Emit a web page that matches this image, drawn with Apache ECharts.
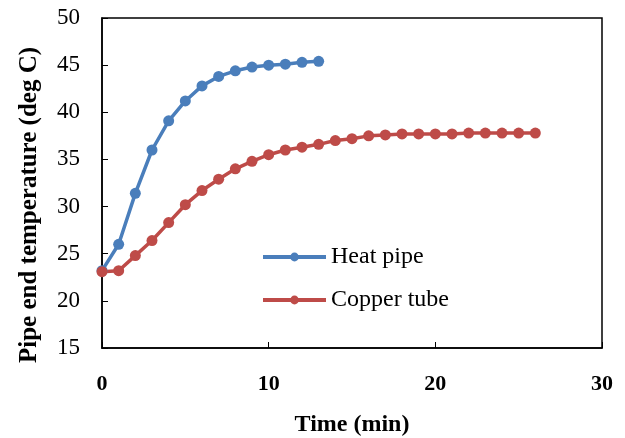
<!DOCTYPE html>
<html>
<head>
<meta charset="UTF-8">
<title>Pipe end temperature</title>
<script src="https://cdn.jsdelivr.net/npm/echarts@6/dist/echarts.min.js"></script>
<style>
  html, body { margin: 0; padding: 0; background: #fff; }
  #chart { width: 625px; height: 438px; }
</style>
</head>
<body>
<div id="chart"></div>
<script>
// time in minutes
var heatPipeTime = [0, 1, 2, 3, 4, 5, 6, 7, 8, 9, 10, 11, 12, 13];
var heatPipeTemp = [23.2, 26.0, 31.4, 36.0, 39.1, 41.2, 42.8, 43.8, 44.4, 44.8, 45.0, 45.1, 45.3, 45.4];
var copperTime = [0, 1, 2, 3, 4, 5, 6, 7, 8, 9, 10, 11, 12, 13, 14, 15, 16, 17, 18, 19, 20, 21, 22, 23, 24, 25, 26];
var copperTemp = [23.1, 23.2, 24.8, 26.4, 28.3, 30.2, 31.7, 32.9, 34.0, 34.8, 35.5, 36.0, 36.3, 36.6, 37.0, 37.2, 37.5, 37.6, 37.7, 37.7, 37.7, 37.7, 37.8, 37.8, 37.8, 37.8, 37.8];
var seriesNames = ['Heat pipe', 'Copper tube'];

function pairs(xs, ys) {
    var out = [];
    for (var i = 0; i < xs.length; i++) out.push([xs[i], ys[i]]);
    return out;
}

var font = 'Liberation Serif, Times New Roman, serif';
var myChart = echarts.init(document.getElementById('chart'));

var option = {
    animation: false,
    grid: {
        left: 102, top: 18, right: 23, bottom: 90,
        outerBoundsMode: 'none',
        show: true, borderColor: '#000', borderWidth: 1.5
    },
    legend: {
        orient: 'vertical',
        left: 256, top: 240,
        itemWidth: 63, itemHeight: 11, itemGap: 19,
        lineStyle: { width: 4 },
        textStyle: { fontFamily: font, fontSize: 24, color: '#000' },
        data: seriesNames
    },
    xAxis: {
        type: 'value', min: 0, max: 30, interval: 10,
        name: 'Time (min)', nameLocation: 'middle', nameGap: 65,
        nameTextStyle: { fontFamily: font, fontSize: 24, fontWeight: 'bold', color: '#000' },
        axisLine: { lineStyle: { color: '#000', width: 1.5 } },
        axisTick: { inside: true, length: 6, lineStyle: { color: '#000' } },
        axisLabel: { margin: 25, fontFamily: font, fontSize: 22, fontWeight: 'bold', color: '#000' },
        splitLine: { show: false }
    },
    yAxis: {
        type: 'value', min: 15, max: 50, interval: 5,
        name: 'Pipe end temperature (deg C)', nameLocation: 'middle', nameGap: 60,
        nameTextStyle: { fontFamily: font, fontSize: 25, fontWeight: 'bold', color: '#000', padding: [0, 44, 0, 0] },
        axisLine: { lineStyle: { color: '#000', width: 1.5 } },
        axisTick: { inside: true, length: 6, lineStyle: { color: '#000' } },
        axisLabel: { margin: 22, fontFamily: font, fontSize: 23, color: '#000' },
        splitLine: { show: false }
    },
    series: [
        {
            name: seriesNames[0], type: 'line',
            data: pairs(heatPipeTime, heatPipeTemp),
            symbol: 'circle', symbolSize: 11,
            lineStyle: { color: '#4A7EBB', width: 3.5 },
            itemStyle: { color: '#4A7EBB' }
        },
        {
            name: seriesNames[1], type: 'line',
            data: pairs(copperTime, copperTemp),
            symbol: 'circle', symbolSize: 11,
            lineStyle: { color: '#BE4B48', width: 3.5 },
            itemStyle: { color: '#BE4B48' }
        }
    ]
};
myChart.setOption(option);
</script>
</body>
</html>
